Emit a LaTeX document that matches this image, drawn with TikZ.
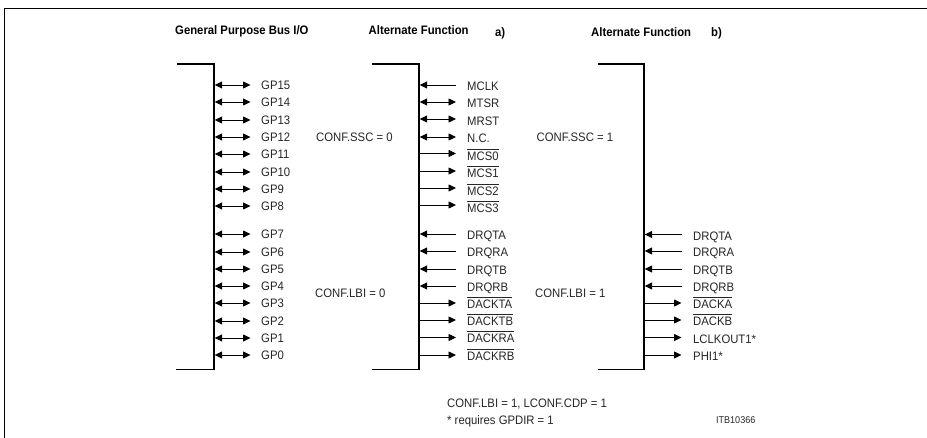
\documentclass[tikz,border=0pt]{standalone}
\usepackage{fontspec}
\setmainfont{Liberation Sans}[FakeStretch=0.92]
\usetikzlibrary{arrows.meta}
\newcommand\ovl[1]{\vbox{\hrule height .8pt \kern 2.2pt\hbox{#1}}}
\tikzset{
  x=1pt,y=-1pt,
  txt/.style={inner sep=0pt,anchor=base west,font=\fontsize{12.3}{14}\selectfont,text=black!85},
  head/.style={inner sep=0pt,anchor=base west,font=\fontsize{12.3}{14}\bfseries\selectfont},
  small/.style={inner sep=0pt,anchor=base west,font=\fontsize{9.8}{11}\selectfont,text=black!85},
  brk/.style={line width=1.5pt,line join=miter},
  frm/.style={line width=1pt},
  tip/.tip={Triangle[length=7.5pt,width=7pt]},
  bi/.style={line width=.8pt,{tip}-{tip}},
  lft/.style={line width=.8pt,{tip}-},
  rgt/.style={line width=.8pt,-{tip}}
}
\begin{document}
\begin{tikzpicture}
\useasboundingbox (0,0) rectangle (927,438);
% frame
\coordinate (fa) at (4.5,438); \coordinate (fb) at (4.5,8.5); \coordinate (fc) at (927,8.5);
\draw[frm] (fa) -- (fb) -- (fc);
% brackets
\coordinate (b1a) at (177,64); \coordinate (b1b) at (214,64); \coordinate (b1c) at (214,369.5); \coordinate (b1d) at (176,369.5);
\coordinate (b2a) at (372,64); \coordinate (b2b) at (419,64); \coordinate (b2c) at (419,369.5); \coordinate (b2d) at (372,369.5);
\coordinate (b3a) at (598,64); \coordinate (b3b) at (644,64); \coordinate (b3c) at (644,369.5); \coordinate (b3d) at (598,369.5);
\draw[brk] (b1a) -- (b1b) -- (b1c) -- (b1d);
\draw[brk] (b2a) -- (b2b) -- (b2c) -- (b2d);
\draw[brk] (b3a) -- (b3b) -- (b3c) -- (b3d);
% headings
\node[head] (h1) at (175,34.5) {General Purpose Bus I/O};
\node[head] (h2) at (368.5,34.5) {Alternate Function};
\node[head] (h2a) at (495,36.5) {a)};
\node[head] (h3) at (591,36.5) {Alternate Function};
\node[head] (h3b) at (711,36.5) {b)};
% conf labels
\node[txt] (c1) at (316,142) {CONF.SSC = 0};
\node[txt] (c2) at (315,298) {CONF.LBI = 0};
\node[txt] (c3) at (536.5,142) {CONF.SSC = 1};
\node[txt] (c4) at (535,298) {CONF.LBI = 1};
\node[txt] (n1) at (447,407) {CONF.LBI = 1, LCONF.CDP = 1};
\node[txt] (n2) at (447,424.5) {* requires GPDIR = 1};
\node[small] (itb) at (716,423.5) {ITB10366};
% column 1
\foreach \n/\y/\t in {a/85/GP15,b/102/GP14,c/120/GP13,d/137/GP12,e/154/GP11,f/172/GP10,g/189/GP9,h/206/GP8,i/234/GP7,j/252/GP6,k/269/GP5,l/286/GP4,m/303/GP3,n/321/GP2,o/338/GP1,p/355/GP0}{
  \node[txt] (g\n) at (261,\y+4.5) {\t};
  \coordinate (gs\n) at (214.7,\y);
  \draw[bi] (gs\n) -- (gs\n -| 250.5,0);
}
% column 2
\foreach \n/\y/\b/\t/\s in {
 a/85/91/MCLK/lft,b/102/108/MTSR/bi,c/119/126/MRST/bi,d/137/143/N.C./bi,
 e/153.5/160.5/\ovl{MCS0}/rgt,f/171/178/\ovl{MCS1}/rgt,g/188/195.5/\ovl{MCS2}/rgt,h/205/212.5/\ovl{MCS3}/rgt,
 i/234/239.5/DRQTA/lft,j/251/256.5/DRQRA/lft,k/269/274.5/DRQTB/lft,l/286/291.5/DRQRB/lft,
 m/303/308.5/\ovl{DACKTA}/rgt,n/320/326/\ovl{DACKTB}/rgt,o/337.5/343/\ovl{DACKRA}/rgt,p/355/360.5/\ovl{DACKRB}/rgt}{
  \node[txt] (m\n) at (467,\b) {\t};
  \coordinate (ms\n) at (419.7,\y);
  \draw[\s] (ms\n) -- (ms\n -| 456,0);
}
% column 3
\foreach \n/\y/\t/\s in {
 i/234.5/DRQTA/lft,j/251/DRQRA/lft,k/269/DRQTB/lft,l/286/DRQRB/lft,
 m/303/\ovl{DACKA}/rgt,n/320/\ovl{DACKB}/rgt,o/337.5/LCLKOUT1*/rgt,p/355/PHI1*/rgt}{
  \node[txt] (r\n) at (693,\y+6) {\t};
  \coordinate (rs\n) at (644.7,\y);
  \draw[\s] (rs\n) -- (rs\n -| 681.5,0);
}
\end{tikzpicture}
\end{document}
